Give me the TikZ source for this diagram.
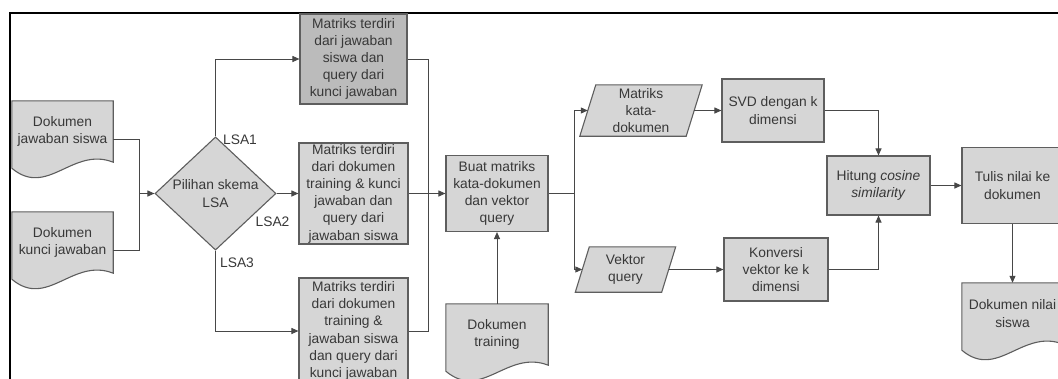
\documentclass[tikz,border=0pt]{standalone}
\usepackage{fontspec}
\setmainfont{Liberation Sans}
\usetikzlibrary{arrows.meta,calc,shapes.geometric,backgrounds}
\definecolor{boxfill}{HTML}{D6D6D6}
\definecolor{boxdark}{HTML}{BBBBBB}
\definecolor{boxline}{HTML}{5E5E5E}
\definecolor{connc}{HTML}{474747}
\definecolor{txt}{HTML}{383838}
\newcommand{\docoutline}[1]{%
  \begin{pgfonlayer}{background}
  \draw[docst] (#1.north west) -- (#1.north east) -- (#1.south east)
    .. controls ($(#1.south west)!0.6!(#1.south east)+(0,-16)$) and ($(#1.south west)!0.35!(#1.south east)+(0,36)$)
    .. ($(#1.south west)+(0,6)$) -- cycle;
  \end{pgfonlayer}}
\newcommand{\paraoutline}[2]{%
  \begin{pgfonlayer}{background}
  \draw[docst] ($(#1.north west)+(#2,0)$) -- ($(#1.north east)+(#2,0)$) -- ($(#1.south east)+(-#2,0)$) -- ($(#1.south west)+(-#2,0)$) -- cycle;
  \end{pgfonlayer}}
\begin{document}
\begin{tikzpicture}[x=1pt,y=-1pt,
  font=\fontsize{13.8}{17.2}\selectfont,
  every node/.style={text=txt, align=center, inner sep=0pt},
  box/.style={draw=boxline, fill=boxfill, line width=1.1pt},
  docst/.style={draw=boxline, fill=boxfill, line width=1.1pt},
  docnode/.style={rectangle, draw=none, minimum width=101pt, minimum height=61pt},
  conn/.style={draw=connc, line width=0.95pt},
  arr/.style={conn, -{Triangle[length=7pt,width=6pt]}},
  lbl/.style={text=txt}]
\useasboundingbox (0,0) rectangle (1058,378);
\clip (0,0) rectangle (1058,378);

% frame
\draw[black, line width=2pt] (10,380) -- (10,12.5) -- (1060,12.5);

% documents
\node[docnode] (d1) at (62.5,131.5) {Dokumen\\jawaban siswa};
\docoutline{d1}
\node[docnode] (d2) at (62.5,242.5) {Dokumen\\kunci jawaban};
\docoutline{d2}
\node[docnode, minimum width=102pt] (dtr) at (497,334.5) {Dokumen\\training};
\docoutline{dtr}
\node[docnode] (dns) at (1012.5,313.5) {Dokumen nilai\\siswa};
\docoutline{dns}

% decision
\node[diamond, box, minimum width=121pt, minimum height=89pt] (dia) at (215.5,193.5) {Pilihan skema\\LSA};

% matrix boxes
\node[box, fill=boxdark, minimum width=107pt, minimum height=90pt] (box1) at (353.5,59) {Matriks terdiri\\dari jawaban\\siswa dan\\query dari\\kunci jawaban};
\node[box, minimum width=109pt, minimum height=101pt] (box2) at (353.5,193.5) {Matriks terdiri\\dari dokumen\\training \& kunci\\jawaban dan\\query dari\\jawaban siswa};
\node[box, minimum width=109pt, minimum height=106pt] (box3) at (353.5,331) {Matriks terdiri\\dari dokumen\\training \&\\jawaban siswa\\dan query dari\\kunci jawaban};

\node[box, minimum width=102pt, minimum height=76pt] (buat) at (497,193.5) {Buat matriks\\kata-dokumen\\dan vektor\\query};

% parallelograms
\node[rectangle, minimum width=106pt, minimum height=51pt] (mkd) at (641,110.5) {Matriks\\kata-\\dokumen};
\paraoutline{mkd}{8}
\node[rectangle, minimum width=86pt, minimum height=45pt] (vq) at (625.5,269.5) {Vektor\\query};
\paraoutline{vq}{7}

\node[box, minimum width=102pt, minimum height=63pt] (svd) at (773,110.5) {SVD dengan k\\dimensi};
\node[box, minimum width=104pt, minimum height=63pt] (konv) at (776,269.5) {Konversi\\vektor ke k\\dimensi};
\node[box, minimum width=103pt, minimum height=59pt] (hit) at (878.5,185.5) {Hitung \textit{cosine}\\\textit{similarity}};
\node[box, minimum width=101pt, minimum height=76pt] (tulis) at (1012.5,185.5) {Tulis nilai ke\\dokumen};

% labels
\node[lbl] (l1) at (240,140) {LSA1};
\node[lbl] (l2) at (272.5,222) {LSA2};
\node[lbl] (l3) at (237,263) {LSA3};

% connectors
\coordinate (m1) at (139,193.5);
\draw[conn] ($(d1.east)+(0,7.5)$) -| (m1);
\draw[conn] ($(d2.east)+(0,7.5)$) -| (m1);
\draw[arr] (m1) -- (dia.west);
\draw[arr] (dia.north) |- (box1.west);
\draw[arr] (dia.east) -- (box2.west);
\draw[arr] (dia.south) |- (box3.west);
\coordinate (j) at (428,193.5);
\draw[conn] (box1.east) -| (j);
\draw[conn] (box3.east) -| (j);
\draw[arr] (box2.east) -- (buat.west);
\draw[arr] (dtr.north) -- (buat.south);
\coordinate (s) at (574,193.5);
\draw[conn] (buat.east) -- (s);
\draw[arr] (s) |- (mkd.west);
\draw[arr] (s) |- (vq.west);
\draw[arr] (mkd.east) -- (svd.west);
\draw[arr] (vq.east) -- (konv.west);
\draw[arr] (svd.east) -| (hit.north);
\draw[arr] (konv.east) -| (hit.south);
\draw[arr] (hit.east) -- (tulis.west);
\draw[arr] (tulis.south) -- (dns.north);
\end{tikzpicture}
\end{document}
